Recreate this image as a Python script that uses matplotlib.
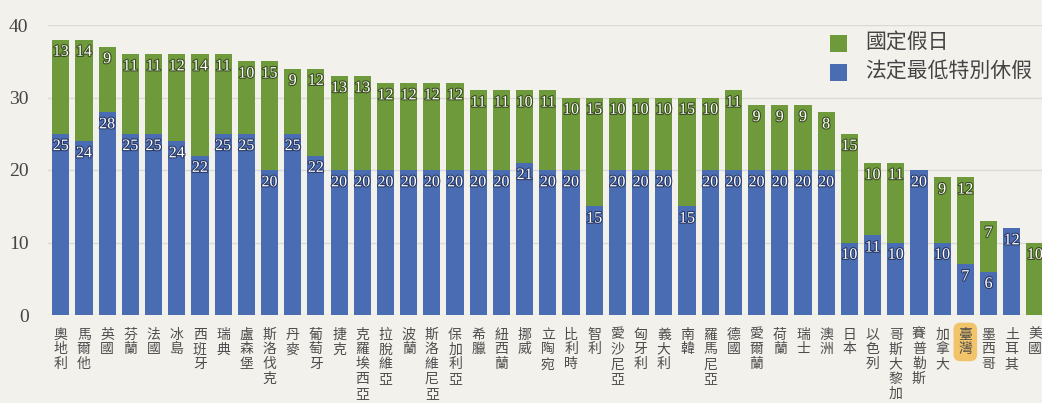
import matplotlib
matplotlib.use("Agg")
import matplotlib.pyplot as plt
import matplotlib.patheffects as pe
from matplotlib.patches import Rectangle
import numpy as np

countries = ["奧地利","馬爾他","英國","芬蘭","法國","冰島","西班牙","瑞典","盧森堡","斯洛伐克",
             "丹麥","葡萄牙","捷克","克羅埃西亞","拉脫維亞","波蘭","斯洛維尼亞","保加利亞","希臘","紐西蘭",
             "挪威","立陶宛","比利時","智利","愛沙尼亞","匈牙利","義大利","南韓","羅馬尼亞","德國",
             "愛爾蘭","荷蘭","瑞士","澳洲","日本","以色列","哥斯大黎加","賽普勒斯","加拿大","臺灣",
             "墨西哥","土耳其","美國"]
leave = [25,24,28,25,25,24,22,25,25,20,
         25,22,20,20,20,20,20,20,20,20,
         21,20,20,15,20,20,20,15,20,20,
         20,20,20,20,10,11,10,20,10,7,
         6,12,0]
holidays = [13,14,9,11,11,12,14,11,10,15,
            9,12,13,13,12,12,12,12,11,11,
            10,11,10,15,10,10,10,15,10,11,
            9,9,9,8,15,10,11,0,9,12,
            7,0,10]
yticks = [0,10,20,30,40]
legend_labels = ["國定假日","法定最低特別休假"]

GREEN = "#6e9a3b"
BLUE = "#4a6cb2"
BG = "#f3f1ec"
W, H = 1042, 403
fig = plt.figure(figsize=(W/100, H/100), dpi=100, facecolor=BG)
left_px, top_px, bottom_px = 48, 25, 315
right_px = 1046.5
ax = fig.add_axes([left_px/W, 1-bottom_px/H, (right_px-left_px)/W, (bottom_px-top_px)/H])
ax.set_facecolor(BG)
x = np.arange(len(countries))
ax.set_xlim(-0.55, 42.5)
ax.set_ylim(0, 40)

ax.bar(x, leave, width=0.74, color=BLUE, zorder=3)
ax.bar(x, holidays, width=0.74, bottom=leave, color=GREEN, zorder=3)

for i in range(len(countries)):
    if leave[i] > 0:
        ax.text(x[i], leave[i]-1.7, str(leave[i]), ha="center", va="center", color="white",
                fontsize=11.5, family="Liberation Serif", zorder=4,
                path_effects=[pe.withStroke(linewidth=1.6, foreground="#2a3a66")])
    if holidays[i] > 0:
        top = leave[i]+holidays[i]
        ax.text(x[i], top-1.7, str(holidays[i]), ha="center", va="center", color="white",
                fontsize=11.5, family="Liberation Serif", zorder=4,
                path_effects=[pe.withStroke(linewidth=1.6, foreground="#3b4d22")])

ax.set_yticks(yticks)
ax.set_yticklabels([str(v) for v in yticks], fontsize=14, family="Liberation Serif", color="#444444")
ax.yaxis.grid(True, color="#dcdad4", linewidth=1, zorder=0)
ax.tick_params(axis="y", length=0, pad=14)
ax.tick_params(axis="x", length=0)
ax.set_xticks([])
for s in ax.spines.values():
    s.set_visible(False)

for i, name in enumerate(countries):
    txt = "\n".join(list(name))
    kw = dict(ha="center", va="top", fontsize=10, family=["Noto Sans CJK TC", "DejaVu Sans"],
              color="#4d4d4d", linespacing=1.08)
    if name == "臺灣":
        kw["bbox"] = dict(boxstyle="round,pad=0.35,rounding_size=0.5", fc="#f2c46a", ec="none")
    ax.annotate(txt, xy=(x[i], 0), xycoords="data", xytext=(0, -9), textcoords="offset points",
                annotation_clip=False, **kw)

for k, (lab, col) in enumerate(zip(legend_labels, [GREEN, BLUE])):
    yc = 1 - (43 + k*29)/H
    fig.patches.append(Rectangle((830/W, yc - 8.5/H), 17/W, 17/H, transform=fig.transFigure,
                                 facecolor=col, edgecolor="none", zorder=5))
    fig.text(865/W, yc, lab, ha="left", va="center", fontsize=15,
             family=["Noto Sans CJK TC", "DejaVu Sans"], color="#444444", zorder=5)

fig.savefig("out.png", dpi=100, facecolor=BG)
